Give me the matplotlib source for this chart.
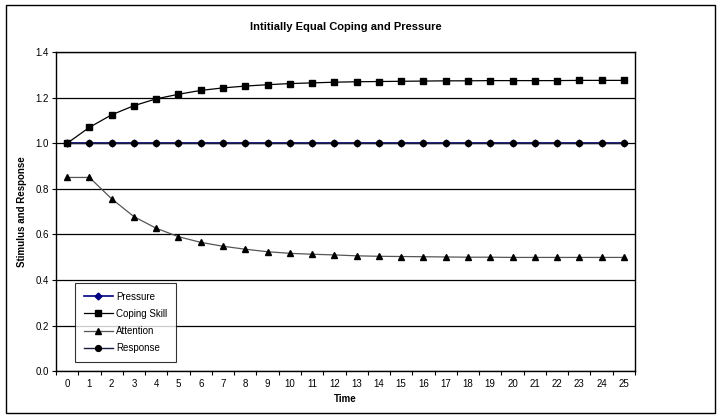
import numpy as np
import matplotlib.pyplot as plt
from matplotlib.patches import Rectangle

plt.rcParams['font.family'] = ['Liberation Sans', 'DejaVu Sans']

time = list(range(26))
pressure = [1.0] * 26
coping = [1.0, 1.07, 1.125, 1.165, 1.195, 1.215, 1.232, 1.243, 1.251, 1.257,
          1.262, 1.265, 1.268, 1.270, 1.271, 1.272, 1.273, 1.274, 1.274, 1.275,
          1.275, 1.275, 1.275, 1.276, 1.276, 1.276]
attention = [0.85, 0.85, 0.756, 0.678, 0.627, 0.590, 0.565, 0.548, 0.535, 0.524,
             0.517, 0.513, 0.510, 0.506, 0.504, 0.503, 0.502, 0.501, 0.500, 0.500,
             0.499, 0.499, 0.499, 0.499, 0.499, 0.499]
response = [1.0] * 26

fig = plt.figure(figsize=(7.21, 4.17), dpi=100)
fig.patches.append(Rectangle((0.009, 0.01), 0.982, 0.978, transform=fig.transFigure,
                             fill=False, edgecolor='black', linewidth=1.0))
ax = fig.add_axes([0.0777, 0.110, 0.803, 0.765])

ax.plot(time, pressure, color='#000080', marker='D', markersize=3.5, linewidth=1.2, label='Pressure')
ax.plot(time, coping, color='black', marker='s', markersize=4.2, linewidth=0.9, label='Coping Skill')
ax.plot(time, attention, color='#555555', marker='^', markersize=4.8, markerfacecolor='black',
        markeredgecolor='black', linewidth=0.9, label='Attention')
ax.plot(time, response, color='#1a1a40', marker='o', markersize=4.2, markerfacecolor='black',
        markeredgecolor='black', linewidth=1.0, label='Response')

ax.set_xlim(-0.5, 25.5)
ax.set_ylim(0, 1.4)
ax.set_yticks(np.arange(0, 1.41, 0.2))
ax.set_yticklabels(['%.1f' % v for v in np.arange(0, 1.41, 0.2)], fontsize=7)
ax.set_xticks(time)
ax.set_xticklabels([str(t) for t in time], fontsize=7)
ax.set_xticks(np.arange(-0.5, 25.6, 1), minor=True)
ax.tick_params(axis='x', which='major', length=0, pad=6)
ax.tick_params(axis='x', which='minor', length=3, width=0.8)
ax.tick_params(axis='y', length=3, width=0.8, pad=2)
ax.grid(axis='y', color='black', linewidth=0.9)
ax.set_axisbelow(True)
for s in ax.spines.values():
    s.set_linewidth(1.0)

ax.set_title('Intitially Equal Coping and Pressure', fontsize=8, fontweight='bold', pad=16)
ax.set_xlabel('Time', fontsize=7, fontweight='bold', labelpad=3)
ax.set_ylabel('Stimulus and Response', fontsize=7, fontweight='bold', labelpad=6)

leg = ax.legend(loc='lower left', bbox_to_anchor=(0.033, 0.028), borderaxespad=0, fontsize=7,
                frameon=True, fancybox=False, edgecolor='black', handlelength=3.0, borderpad=0.9,
                labelspacing=0.75, handletextpad=0.3)
leg.get_frame().set_linewidth(0.8)

fig.savefig('out.png', dpi=100)
